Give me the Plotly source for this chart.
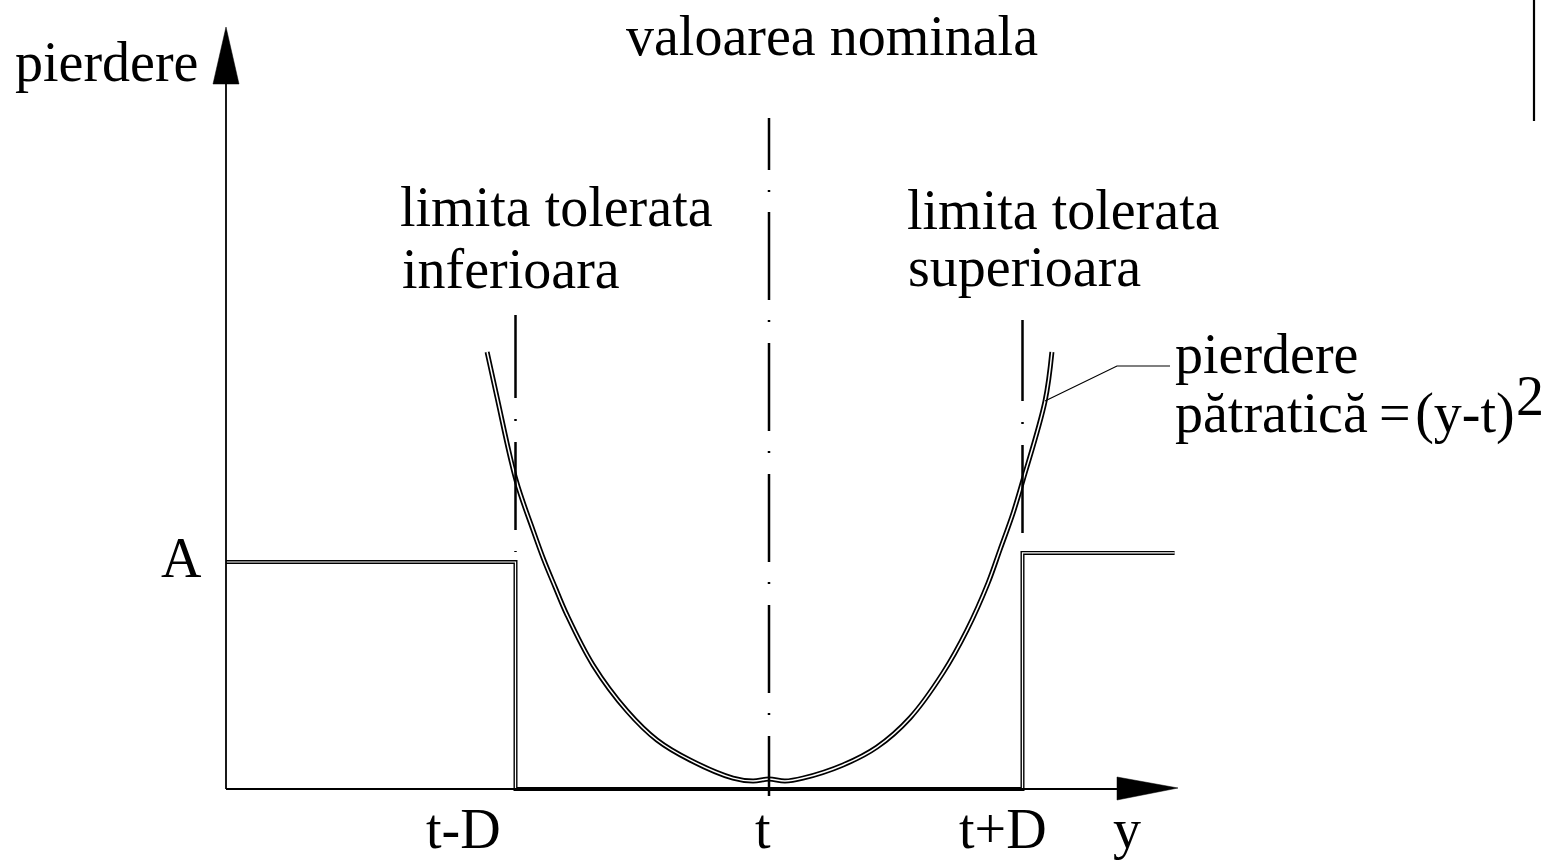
import plotly.graph_objects as go

W, H = 1543, 863

# Position along the characteristic axis, in units of the tolerance D around t
loss_x = [-1.112, -1.073, -0.998, -0.931, -0.888, -0.844, -0.797, -0.694, -0.560, -0.442,
          -0.312, -0.142, -0.063, 0.000,
          0.063, 0.134, 0.292, 0.426, 0.556, 0.686, 0.781, 0.864, 0.911, 0.963,
          1.002, 1.089, 1.116]
# Quadratic loss (y-t)^2, in units of the step height A
loss_y = [1.925, 1.727, 1.361, 1.141, 1.009, 0.890, 0.767, 0.546, 0.344, 0.216,
          0.128, 0.048, 0.035, 0.044,
          0.035, 0.048, 0.106, 0.185, 0.313, 0.511, 0.700, 0.907, 1.053, 1.216,
          1.361, 1.709, 1.925]

# Step (goalpost) loss: A outside the tolerance limits, zero inside
step_x = [-2.142, -1.0, -1.0, 1.0, 1.0, 1.60]
step_y = [1.0, 1.0, 0.0, 0.0, 1.04, 1.04]

tick_vals = [-1, 0, 1]
tick_text = ["t-D", "t", "t+D"]
tick_shift = [-52, -6, -20]
level_val = 1.0
level_text = "A"

FONT = dict(family="Liberation Serif", size=56, color="black")


# canvas helpers (pixel -> axis units / paper units)
def ux(px):
    return (px - 769) / 253.5


def uy(py):
    return (789 - py) / 227.0


def px_(px):
    return px / W


def py_(py):
    return 1 - py / H


fig = go.Figure()

# step loss, drawn as a double stroke
fig.add_trace(go.Scatter(x=step_x, y=step_y, mode="lines",
                         line=dict(color="black", width=4), hoverinfo="skip"))
fig.add_trace(go.Scatter(x=step_x, y=step_y, mode="lines",
                         line=dict(color="white", width=1.2), hoverinfo="skip"))

# quadratic loss, drawn as a double stroke
fig.add_trace(go.Scatter(x=loss_x, y=loss_y, mode="lines",
                         line=dict(color="black", width=5, shape="spline", smoothing=1.0),
                         hoverinfo="skip"))
fig.add_trace(go.Scatter(x=loss_x, y=loss_y, mode="lines",
                         line=dict(color="white", width=1.5, shape="spline", smoothing=1.0),
                         hoverinfo="skip"))

shapes = []
# axes
shapes.append(dict(type="line", x0=ux(226), x1=ux(226), y0=0, y1=uy(84),
                   line=dict(color="black", width=1.8)))
shapes.append(dict(type="line", x0=ux(226), x1=ux(1118), y0=0, y1=0,
                   line=dict(color="black", width=2)))
shapes.append(dict(type="path",
                   path=f"M {ux(226)},{uy(27)} L {ux(213)},{uy(84)} L {ux(239)},{uy(84)} Z",
                   fillcolor="black", line=dict(color="black", width=0.5)))
shapes.append(dict(type="path",
                   path=f"M {ux(1178)},{uy(788)} L {ux(1117)},{uy(777)} L {ux(1117)},{uy(800)} Z",
                   fillcolor="black", line=dict(color="black", width=0.5)))

# centre lines (nominal value and tolerance limits)
shapes.append(dict(type="line", x0=tick_vals[1], x1=tick_vals[1], y0=uy(118), y1=uy(796),
                   line=dict(color="black", width=2.5,
                             dash="52px,20px,2px,20px,88px,20px,2px,21px,88px,20px,2px,21px,"
                                  "88px,20px,2px,21px,88px,20px,2px,21px,88px,20px,2px,21px,70px")))
shapes.append(dict(type="line", x0=tick_vals[0], x1=tick_vals[0], y0=uy(315), y1=uy(552),
                   line=dict(color="black", width=2.5,
                             dash="83px,21px,2px,21px,88px,21px,2px,30px")))
shapes.append(dict(type="line", x0=tick_vals[2], x1=tick_vals[2], y0=uy(320), y1=uy(545),
                   line=dict(color="black", width=2.5,
                             dash="81px,21px,2px,21px,88px,21px,2px,30px")))

# leader to the curve label
shapes.append(dict(type="path",
                   path=f"M {ux(1045)},{uy(401)} L {ux(1117)},{uy(366)} L {ux(1170)},{uy(366)}",
                   line=dict(color="black", width=1.2)))

# frame edge at the top right
shapes.append(dict(type="line", xref="paper", yref="paper",
                   x0=px_(1534), x1=px_(1534), y0=py_(0), y1=py_(121),
                   line=dict(color="black", width=2.2)))

annotations = []


def txt(text, x, y, xanchor="left"):
    annotations.append(dict(text=text, x=px_(x), y=py_(y), xref="paper", yref="paper",
                            xanchor=xanchor, yanchor="middle", showarrow=False, font=FONT))


txt("pierdere", 13, 62)
txt("valoarea nominala", 832, 36, "center")
txt("limita tolerata", 398, 207)
txt("inferioara", 400, 269)
txt("limita tolerata", 905, 210)
txt("superioara", 906, 267)
txt("pierdere", 1173, 354)
txt("pătratică\u2009=\u200a(y-t)", 1173, 414)
txt("2", 1530, 396, "center")
txt("y", 1127, 829, "center")

for v, t, s in zip(tick_vals, tick_text, tick_shift):
    annotations.append(dict(text=t, x=v, y=py_(829), xref="x", yref="paper",
                            xanchor="center", yanchor="middle", xshift=s,
                            showarrow=False, font=FONT))

annotations.append(dict(text=level_text, x=px_(181), y=level_val, xref="paper", yref="y",
                        xanchor="center", yanchor="middle", yshift=4,
                        showarrow=False, font=FONT))

fig.update_layout(
    width=W, height=H,
    margin=dict(l=0, r=0, t=0, b=0),
    paper_bgcolor="white", plot_bgcolor="white",
    showlegend=False,
    xaxis=dict(range=[ux(0), ux(W)], visible=False, fixedrange=True),
    yaxis=dict(range=[uy(H), uy(0)], visible=False, fixedrange=True),
    shapes=shapes,
    annotations=annotations,
)

fig.write_html("out.html")
